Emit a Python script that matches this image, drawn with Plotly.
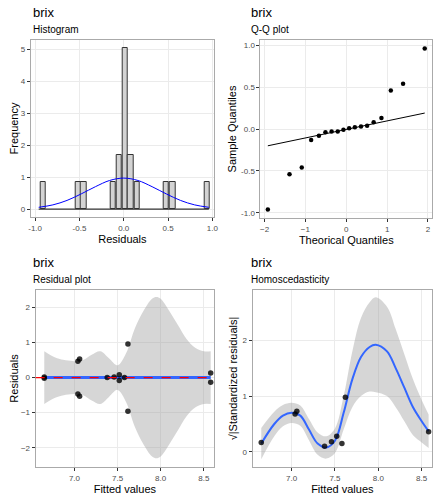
import plotly.graph_objects as go
from plotly.subplots import make_subplots

# histogram
hist_x = [-0.91, -0.51, -0.45, -0.12, -0.05, 0.017, 0.08, 0.15, 0.48, 0.55, 0.94]
hist_y = [0.85, 0.85, 0.85, 0.85, 1.7, 5.05, 1.7, 0.85, 0.85, 0.85, 0.85]
hist_base_x = [-0.96, 0.96]
hist_base_y = [0, 0]
norm_x = [-0.96, -0.8, -0.64, -0.48, -0.32, -0.16, 0, 0.16, 0.32, 0.48, 0.64, 0.8, 0.96]
norm_y = [0.054, 0.13, 0.27, 0.475, 0.70, 0.895, 0.97, 0.895, 0.70, 0.475, 0.27, 0.13, 0.054]

# q-q
qq_theo = [-1.92, -1.39, -1.09, -0.86, -0.67, -0.51, -0.36, -0.21, -0.07,
           0.07, 0.21, 0.36, 0.51, 0.67, 0.86, 1.09, 1.39, 1.92]
qq_samp = [-0.96, -0.54, -0.46, -0.13, -0.08, -0.04, -0.03, -0.03, -0.01,
           0.01, 0.02, 0.03, 0.04, 0.08, 0.13, 0.46, 0.54, 0.96]
qq_line_x = [-1.92, 1.92]
qq_line_y = [-0.2, 0.19]

# residuals
fitted = [6.65, 6.65, 7.04, 7.04, 7.06, 7.06, 7.38, 7.46, 7.52, 7.52, 7.58, 7.62, 7.62, 8.58, 8.58]
resid = [0.02, -0.02, 0.47, -0.47, 0.53, -0.53, 0.0, 0.02, 0.08, -0.08, 0.0, 0.96, -0.96, 0.13, -0.13]
band_x = [6.65, 6.8, 7.0, 7.1, 7.2, 7.3, 7.4, 7.5, 7.6, 7.7, 7.8, 7.9, 7.95, 8.0, 8.1, 8.2, 8.3, 8.4, 8.5, 8.58]
band_up = [0.75, 0.55, 0.47, 0.5, 0.65, 0.75, 0.55, 0.35, 0.7, 1.4, 1.9, 2.25, 2.3, 2.25, 1.9, 1.5, 1.1, 0.85, 0.75, 0.75]
band_lo = [-v for v in band_up]
res_line_x = [6.65, 8.58]
res_line_y = [0, 0]

# homoscedasticity
hom_fit = [6.65, 7.04, 7.06, 7.38, 7.46, 7.52, 7.58, 7.62, 8.58]
hom_y = [0.17, 0.68, 0.73, 0.1, 0.18, 0.28, 0.15, 0.98, 0.36]
sm_x = [6.65, 6.8, 6.9, 7.0, 7.1, 7.2, 7.3, 7.4, 7.5, 7.6, 7.7, 7.8, 7.9, 7.97, 8.1, 8.2, 8.3, 8.4, 8.5, 8.58]
sm_y = [0.15, 0.5, 0.65, 0.7, 0.65, 0.4, 0.15, 0.08, 0.2, 0.7, 1.3, 1.7, 1.88, 1.92, 1.8, 1.5, 1.15, 0.8, 0.55, 0.37]
sm_hw = [0.28, 0.22, 0.19, 0.18, 0.18, 0.19, 0.2, 0.2, 0.22, 0.3, 0.5, 0.7, 0.8, 0.85, 0.8, 0.7, 0.6, 0.5, 0.38, 0.3]
sm_up = [a + b for a, b in zip(sm_y, sm_hw)]
sm_lo = [a - b for a, b in zip(sm_y, sm_hw)]

fig = make_subplots(rows=2, cols=2)

fig.add_trace(go.Bar(x=hist_x, y=hist_y, width=0.064, marker=dict(color="#d3d3d3", line=dict(color="#333333", width=1))), 1, 1)
fig.add_trace(go.Scatter(x=hist_base_x, y=hist_base_y, mode="lines", line=dict(color="#333333", width=1.2)), 1, 1)
fig.add_trace(go.Scatter(x=norm_x, y=norm_y, mode="lines", line=dict(color="blue", width=1, shape="spline")), 1, 1)

fig.add_trace(go.Scatter(x=qq_line_x, y=qq_line_y, mode="lines", line=dict(color="black", width=1)), 1, 2)
fig.add_trace(go.Scatter(x=qq_theo, y=qq_samp, mode="markers", marker=dict(color="black", size=4.5)), 1, 2)

fig.add_trace(go.Scatter(x=band_x, y=band_up, mode="lines", line=dict(width=0, shape="spline")), 2, 1)
fig.add_trace(go.Scatter(x=band_x, y=band_lo, mode="lines", fill="tonexty", fillcolor="rgba(153,153,153,0.4)", line=dict(width=0, shape="spline")), 2, 1)
fig.add_trace(go.Scatter(x=res_line_x, y=res_line_y, mode="lines", line=dict(color="#3366FF", width=3)), 2, 1)
fig.add_trace(go.Scatter(x=fitted, y=resid, mode="markers", marker=dict(color="black", size=5.5, opacity=0.8)), 2, 1)
fig.add_hline(y=0, line=dict(color="red", dash="dash", width=1.2), row=2, col=1)

fig.add_trace(go.Scatter(x=sm_x, y=sm_up, mode="lines", line=dict(width=0, shape="spline")), 2, 2)
fig.add_trace(go.Scatter(x=sm_x, y=sm_lo, mode="lines", fill="tonexty", fillcolor="rgba(153,153,153,0.4)", line=dict(width=0, shape="spline")), 2, 2)
fig.add_trace(go.Scatter(x=sm_x, y=sm_y, mode="lines", line=dict(color="#3366FF", width=2, shape="spline")), 2, 2)
fig.add_trace(go.Scatter(x=hom_fit, y=hom_y, mode="markers", marker=dict(color="black", size=5.5, opacity=0.8)), 2, 2)

# page has an 8px body margin, so work in shifted coordinates
OFF = 8
W, H = 442 - OFF, 500 - OFF
boxes = [(29, 215, 40, 217), (262, 436, 40, 218), (34, 215, 290, 467), (254, 436, 290, 467)]
axcfg = [
    dict(xr=[-1.05, 1.02], yr=[-0.25, 5.3], xt=[-1, -0.5, 0, 0.5, 1], xtt=["-1.0", "-0.5", "0.0", "0.5", "1.0"], yt=[0, 1, 2, 3, 4, 5], ytt=None,
         xl="Residuals", yl="Frequency", sub="Histogram"),
    dict(xr=[-2.1, 2.1], yr=[-1.06, 1.06], xt=[-2, -1, 0, 1, 2], xtt=None, yt=[-1, -0.5, 0, 0.5, 1], ytt=["-1.0", "-0.5", "0.0", "0.5", "1.0"],
         xl="Theorical Quantiles", yl="Sample Quantiles", sub="Q-Q plot"),
    dict(xr=[6.55, 8.62], yr=[-2.55, 2.5], xt=[7, 7.5, 8, 8.5], xtt=["7.0", "7.5", "8.0", "8.5"], yt=[-2, -1, 0, 1, 2], ytt=None,
         xl="Fitted values", yl="Residuals", sub="Residual plot"),
    dict(xr=[6.55, 8.62], yr=[-0.27, 2.9], xt=[7, 7.5, 8, 8.5], xtt=["7.0", "7.5", "8.0", "8.5"], yt=[0, 1, 2], ytt=None,
         xl="Fitted values", yl="√|Standardized residuals|", sub="Homoscedasticity"),
]
for i, ((x0, x1, y0, y1), c) in enumerate(zip(boxes, axcfg)):
    x0, x1, y0, y1 = x0 - OFF, x1 - OFF, y0 - OFF, y1 - OFF
    n = "" if i == 0 else str(i + 1)
    common = dict(showgrid=True, gridcolor="#ebebeb", showline=True, mirror=True, linecolor="#aaaaaa",
                  ticks="outside", ticklen=3, tickcolor="#333333", tickfont=dict(size=8, color="#4d4d4d"),
                  zeroline=False, title_font=dict(size=11, color="black"), title_standoff=2)
    fig.layout["xaxis" + n].update(domain=[x0 / W, x1 / W], range=c["xr"], tickvals=c["xt"], ticktext=c["xtt"], title_text=c["xl"], **common)
    fig.layout["yaxis" + n].update(domain=[1 - y1 / H, 1 - y0 / H], range=c["yr"], tickvals=c["yt"], ticktext=c["ytt"], title_text=c["yl"], **common)
    tx = (29 if i % 2 == 0 else 250) - OFF
    ty = (12 if i < 2 else 262) - OFF
    fig.add_annotation(text="brix", x=tx / W, y=1 - ty / H, xref="paper", yref="paper", xanchor="left", yanchor="middle",
                       showarrow=False, font=dict(size=13, color="black"))
    fig.add_annotation(text=c["sub"], x=tx / W, y=1 - (ty + 17) / H, xref="paper", yref="paper", xanchor="left", yanchor="middle",
                       showarrow=False, font=dict(size=10, color="black"))

fig.update_layout(width=W, height=H, margin=dict(l=0, r=0, t=0, b=0), showlegend=False,
                  plot_bgcolor="white", paper_bgcolor="white", bargap=0,
                  font=dict(family="Liberation Sans, Arial, sans-serif"))
fig.write_html("out.html")
